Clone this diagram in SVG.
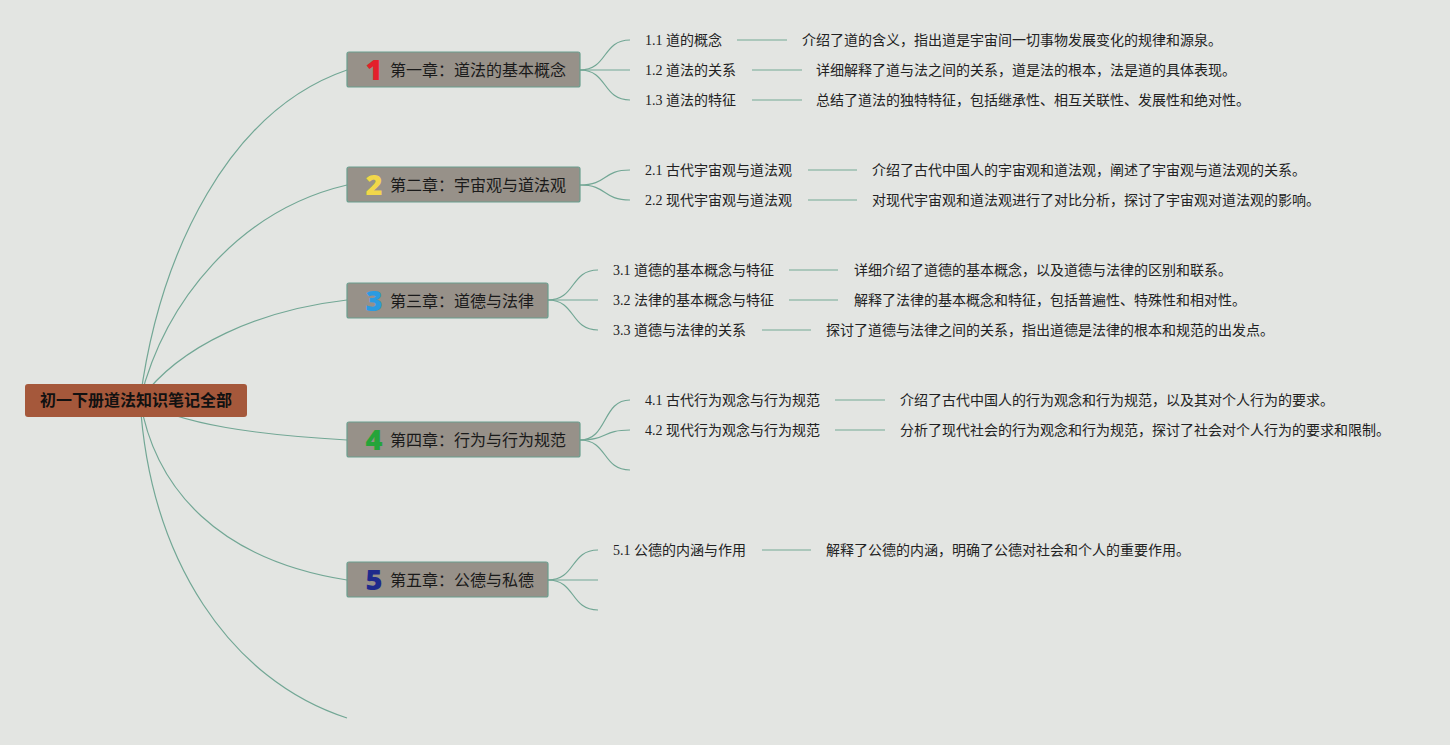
<svg xmlns="http://www.w3.org/2000/svg" width="1450" height="745" viewBox="0 0 1450 745">
<style>
.bg{fill:#e3e5e2}
.c{fill:none;stroke:#72a795;stroke-width:1.2}
.h{fill:none;stroke:#98bdae;stroke-width:1.5}
.root{fill:#a5583b}
.rt{font-family:"Noto Sans CJK SC","Noto Sans",sans-serif;font-size:16px;font-weight:bold;fill:#111}
.ch{fill:#979189;stroke:#6a9e8e;stroke-width:1.2}
.ct{font-family:"Noto Sans CJK SC","Noto Sans",sans-serif;font-size:16px;fill:#1a1a1a}
.num{font-family:"Noto Sans","Noto Sans CJK SC",sans-serif;font-size:29px;font-weight:900;text-anchor:middle}
.st{font-family:"Liberation Serif","Noto Sans CJK SC",serif;font-size:14px;fill:#222}
.ds{font-family:"Noto Sans CJK SC","Liberation Sans",sans-serif;font-size:14px;fill:#222}
</style>
<rect class="bg" x="0" y="0" width="1450" height="745"/>
<g id="connectors">
<path class="c" d="M140,400 C160,250 230,110 347,70"/>
<path class="c" d="M140,400 C165,300 240,210 347,185"/>
<path class="c" d="M140,400 C180,345 260,310 347,300"/>
<path class="c" d="M140,400 C180,425 260,435 347,440"/>
<path class="c" d="M140,400 C155,490 220,560 347,580"/>
<path class="c" d="M140,400 C150,560 230,680 347,718"/>
<path class="c" d="M580,70 C608,70 602,40 630,40"/>
<path class="c" d="M580,70 L630,70"/>
<path class="c" d="M580,70 C608,70 602,100 630,100"/>
<path class="c" d="M580,185 C608,185 602,170 630,170"/>
<path class="c" d="M580,185 C608,185 602,200 630,200"/>
<path class="c" d="M548,300 C576,300 570,270 598,270"/>
<path class="c" d="M548,300 L598,300"/>
<path class="c" d="M548,300 C576,300 570,330 598,330"/>
<path class="c" d="M580,440 C608,440 602,400 630,400"/>
<path class="c" d="M580,440 C608,440 602,430 630,430"/>
<path class="c" d="M580,440 C608,440 602,470 630,470"/>
<path class="c" d="M548,580 C576,580 570,550 598,550"/>
<path class="c" d="M548,580 L598,580"/>
<path class="c" d="M548,580 C576,580 570,610 598,610"/>
<path class="h" d="M737,40 H787"/>
<path class="h" d="M752,70 H802"/>
<path class="h" d="M752,100 H802"/>
<path class="h" d="M808,170 H857"/>
<path class="h" d="M808,200 H857"/>
<path class="h" d="M789,270 H838"/>
<path class="h" d="M789,300 H838"/>
<path class="h" d="M762,330 H811"/>
<path class="h" d="M835,400 H885"/>
<path class="h" d="M835,430 H885"/>
<path class="h" d="M762,550 H811"/>
</g>
<g id="root">
<rect class="root" x="25" y="384" width="222" height="33" rx="3"/>
<text class="rt" x="136" y="406" text-anchor="middle">初一下册道法知识笔记全部</text>
</g>
<g id="ch1">
<rect class="ch" x="347" y="52" width="233" height="35" rx="2"/>
<text class="num" x="374" y="80" fill="#e3202b">1</text>
<text class="ct" x="390" y="76">第一章：道法的基本概念</text>
</g>
<g id="ch2">
<rect class="ch" x="347" y="167" width="233" height="35" rx="2"/>
<text class="num" x="374" y="195" fill="#f1d74a">2</text>
<text class="ct" x="390" y="191">第二章：宇宙观与道法观</text>
</g>
<g id="ch3">
<rect class="ch" x="347" y="283" width="201" height="35" rx="2"/>
<text class="num" x="374" y="311" fill="#2b9be0">3</text>
<text class="ct" x="390" y="307">第三章：道德与法律</text>
</g>
<g id="ch4">
<rect class="ch" x="347" y="422" width="233" height="35" rx="2"/>
<text class="num" x="374" y="450" fill="#25a43a">4</text>
<text class="ct" x="390" y="446">第四章：行为与行为规范</text>
</g>
<g id="ch5">
<rect class="ch" x="347" y="562" width="201" height="35" rx="2"/>
<text class="num" x="374" y="590" fill="#1f2a8c">5</text>
<text class="ct" x="390" y="586">第五章：公德与私德</text>
</g>
<g id="s11"><text class="st" x="645" y="45">1.1 道的概念</text><text class="ds" x="802" y="45">介绍了道的含义，指出道是宇宙间一切事物发展变化的规律和源泉。</text></g>
<g id="s12"><text class="st" x="645" y="75">1.2 道法的关系</text><text class="ds" x="816" y="75">详细解释了道与法之间的关系，道是法的根本，法是道的具体表现。</text></g>
<g id="s13"><text class="st" x="645" y="105">1.3 道法的特征</text><text class="ds" x="816" y="105">总结了道法的独特特征，包括继承性、相互关联性、发展性和绝对性。</text></g>
<g id="s21"><text class="st" x="645" y="175">2.1 古代宇宙观与道法观</text><text class="ds" x="872" y="175">介绍了古代中国人的宇宙观和道法观，阐述了宇宙观与道法观的关系。</text></g>
<g id="s22"><text class="st" x="645" y="205">2.2 现代宇宙观与道法观</text><text class="ds" x="872" y="205">对现代宇宙观和道法观进行了对比分析，探讨了宇宙观对道法观的影响。</text></g>
<g id="s31"><text class="st" x="613" y="275">3.1 道德的基本概念与特征</text><text class="ds" x="854" y="275">详细介绍了道德的基本概念，以及道德与法律的区别和联系。</text></g>
<g id="s32"><text class="st" x="613" y="305">3.2 法律的基本概念与特征</text><text class="ds" x="854" y="305">解释了法律的基本概念和特征，包括普遍性、特殊性和相对性。</text></g>
<g id="s33"><text class="st" x="613" y="335">3.3 道德与法律的关系</text><text class="ds" x="826" y="335">探讨了道德与法律之间的关系，指出道德是法律的根本和规范的出发点。</text></g>
<g id="s41"><text class="st" x="645" y="405">4.1 古代行为观念与行为规范</text><text class="ds" x="900" y="405">介绍了古代中国人的行为观念和行为规范，以及其对个人行为的要求。</text></g>
<g id="s42"><text class="st" x="645" y="435">4.2 现代行为观念与行为规范</text><text class="ds" x="900" y="435">分析了现代社会的行为观念和行为规范，探讨了社会对个人行为的要求和限制。</text></g>
<g id="s51"><text class="st" x="613" y="555">5.1 公德的内涵与作用</text><text class="ds" x="826" y="555">解释了公德的内涵，明确了公德对社会和个人的重要作用。</text></g>
</svg>
